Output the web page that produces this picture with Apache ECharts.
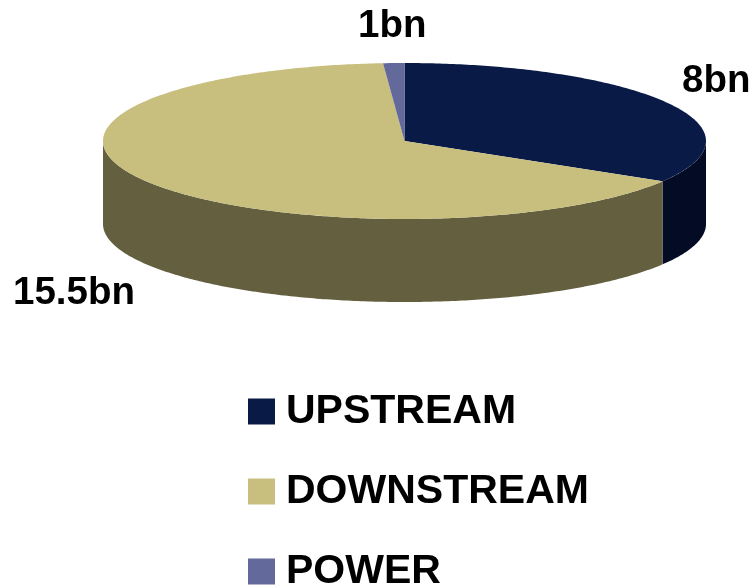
<!DOCTYPE html>
<html>
<head>
<meta charset="utf-8">
<style>html,body{margin:0;padding:0;background:#fff}#c{width:754px;height:587px}</style>
<script src="https://cdn.jsdelivr.net/npm/echarts@6/dist/echarts.min.js"></script>
</head>
<body>
<div id="c"></div>
<script>
const categories = ['UPSTREAM', 'DOWNSTREAM', 'POWER'];
const sliceValues = [8, 15.5, 0.27];
const valueLabels = ['8bn', '15.5bn', '1bn'];

// Style
const topColors = ['#081A45', '#C8BF7E', '#64699C'];
const wallColors = ['#030C24', '#645F3F', '#3A3D5C'];
const labelSpots = [[682, 81], [13, 293], [358, 26]];
const FONT = '"Liberation Sans", Arial, sans-serif';
const CX = 404.5, CY = 141, RX = 301.5, RY = 78, DEPTH = 83;

const total = sliceValues.reduce((a, b) => a + b, 0);
const startAngles = sliceValues.map((_, i) =>
  sliceValues.slice(0, i).reduce((a, b) => a + b, 0) / total * 360);

const rim = (deg, dy) => {
  const t = deg * Math.PI / 180;
  return [CX + RX * Math.sin(t), CY - RY * Math.cos(t) + dy];
};
const arc = (a, b, dy) => {
  const n = Math.max(2, Math.ceil((b - a) * 1.5));
  const out = [];
  for (let k = 0; k <= n; k++) out.push(rim(a + (b - a) * k / n, dy));
  return out;
};

function renderSlice(i) {
  return function (params, api) {
    const a = startAngles[i];
    const b = a + api.value(0) / total * 360;
    const children = [];
    // front-facing wall (90..270 degrees)
    const wa = Math.max(a, 90), wb = Math.min(b, 270);
    if (wb > wa) {
      children.push({
        type: 'polygon',
        shape: { points: arc(wa, wb, 0).concat(arc(wa, wb, DEPTH).reverse()) },
        style: { fill: wallColors[i] }
      });
    }
    children.push({
      type: 'polygon',
      shape: { points: [[CX, CY]].concat(arc(a, b, 0)) },
      style: { fill: topColors[i] }
    });
    children.push({
      type: 'text',
      x: labelSpots[i][0],
      y: labelSpots[i][1],
      style: {
        text: valueLabels[i], fill: '#000',
        font: 'bold 38.5px ' + FONT,
        textAlign: 'left', textVerticalAlign: 'middle'
      }
    });
    return { type: 'group', children };
  };
}

const chart = echarts.init(document.getElementById('c'), null, { renderer: 'canvas' });
chart.setOption({
  animation: false,
  backgroundColor: '#fff',
  legend: {
    orient: 'vertical',
    left: 248,
    top: 391,
    height: 400,
    icon: 'rect',
    itemWidth: 27,
    itemHeight: 26,
    itemGap: 39,
    padding: 0,
    data: categories,
    textStyle: {
      color: '#000',
      fontFamily: FONT,
      fontWeight: 'bold',
      fontSize: 41,
      padding: [0, 0, 0, 6]
    }
  },
  series: categories.map((name, i) => ({
    type: 'custom',
    name,
    coordinateSystem: 'none',
    silent: true,
    itemStyle: { color: topColors[i] },
    data: [[sliceValues[i]]],
    renderItem: renderSlice(i)
  }))
});
</script>
</body>
</html>
